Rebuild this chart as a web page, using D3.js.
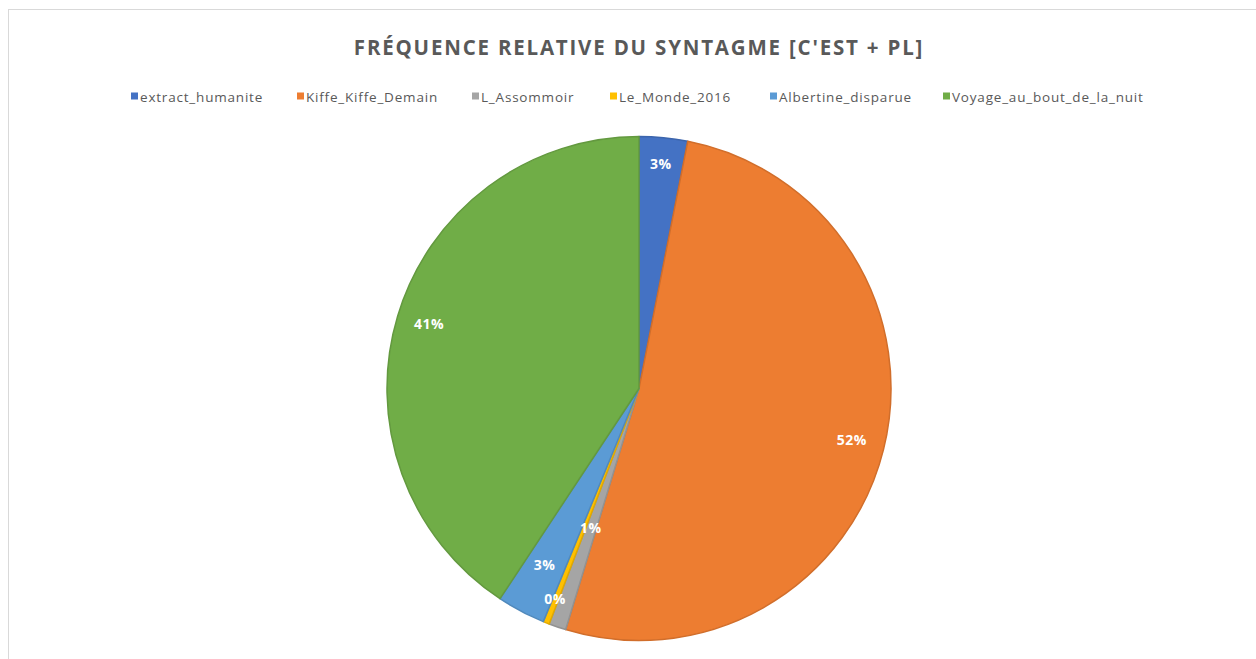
<!DOCTYPE html>
<html>
<head>
<meta charset="utf-8">
<script src="https://cdn.jsdelivr.net/npm/d3@7"></script>
<style>
html,body{margin:0;padding:0;background:#fff;}
svg{display:block;}
</style>
</head>
<body>
<svg id="chart" width="1256" height="659"></svg>
<script>
// ---- data ----
const categories = ["extract_humanite","Kiffe_Kiffe_Demain","L_Assommoir","Le_Monde_2016","Albertine_disparue","Voyage_au_bout_de_la_nuit"];
const values = [3.1, 51.6, 1.1, 0.4, 3.1, 40.7];
const colors = ["#4472C4","#ED7D31","#A5A5A5","#FFC000","#5B9BD5","#70AD47"];
const title = "FRÉQUENCE RELATIVE DU SYNTAGME [C'EST + PL]";

// ---- layout (not data) ----
const labelRadiusFactor = [0.89, 0.87, 0.59, 0.905, 0.8, 0.87];

const svg = d3.select("#chart");
const W = 1256, H = 659;

// chart area border
svg.append("rect").attr("x",8.5).attr("y",9.5).attr("width",W).attr("height",H)
  .attr("fill","#fff").attr("stroke","#d9d9d9").attr("stroke-width",1);

// title
svg.append("text").attr("x",639).attr("y",55).attr("text-anchor","middle")
  .attr("font-family","'Open Sans', 'Noto Sans', sans-serif").attr("font-weight","bold")
  .attr("font-size",20.5).attr("letter-spacing","1.8px").attr("fill","#595959").text(title);

// legend
const legendX = [131, 297, 472, 610, 770, 943];
const lg = svg.append("g");
categories.forEach((c,i)=>{
  const g = lg.append("g").attr("transform",`translate(${legendX[i]},97)`);
  g.append("rect").attr("x",0).attr("y",-4.5).attr("width",7).attr("height",7).attr("fill",colors[i]);
  g.append("text").attr("x",9).attr("y",1).attr("dominant-baseline","middle")
    .attr("font-family","'Open Sans', 'Noto Sans', sans-serif").attr("font-size",13.5)
    .attr("letter-spacing","0.8px")
    .attr("fill","#595959").text(c);
});

// pie
const cx = 639, cy = 388.5, R = 252;
const pie = d3.pie().sort(null).value(d=>d);
const arcs = pie(values);
const arc = d3.arc().innerRadius(0).outerRadius(R);
const pg = svg.append("g").attr("transform",`translate(${cx},${cy})`);
pg.selectAll("path").data(arcs).join("path")
  .attr("d",arc)
  .attr("fill",(d,i)=>colors[i])
  .attr("stroke",(d,i)=>d3.color(colors[i]).darker(0.35))
  .attr("stroke-width",1.5)
  .attr("stroke-linejoin","round");

const total = d3.sum(values);
pg.selectAll("text").data(arcs).join("text")
  .attr("transform",(d,i)=>{
    const r = R*labelRadiusFactor[i];
    const a = (d.startAngle+d.endAngle)/2;
    return `translate(${Math.sin(a)*r},${-Math.cos(a)*r})`;
  })
  .attr("text-anchor","middle").attr("dominant-baseline","middle")
  .attr("font-family","'Open Sans', 'Noto Sans', sans-serif").attr("font-weight","bold")
  .attr("font-size",14).attr("letter-spacing","0.5px").attr("fill","#fff")
  .text(d=>Math.round(d.value/total*100)+"%");
</script>
</body>
</html>
